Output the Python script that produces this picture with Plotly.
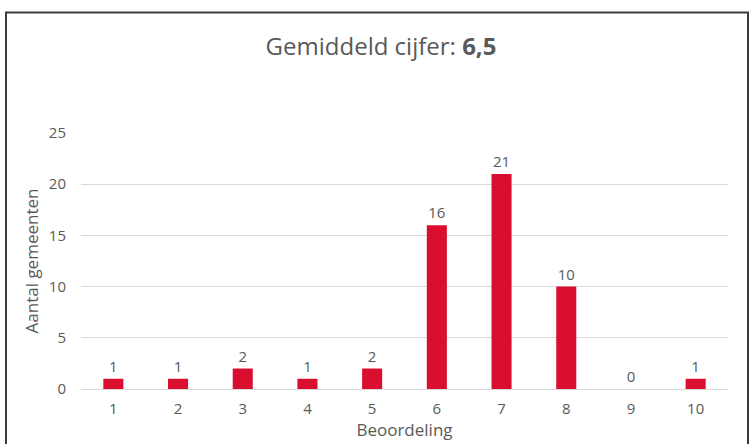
import plotly.graph_objects as go

categories = ["1", "2", "3", "4", "5", "6", "7", "8", "9", "10"]
counts = [1, 1, 2, 1, 2, 16, 21, 10, 0, 1]
y_ticks = [0, 5, 10, 15, 20, 25]

FONT = "Open Sans, Noto Sans, sans-serif"
GREY = "#595959"

fig = go.Figure(go.Bar(
    x=categories, y=counts,
    marker=dict(color="#DA0E2E", line=dict(width=0)),
    width=0.31,
    text=[str(v) for v in counts],
    textposition="outside",
    textfont=dict(family=FONT, size=15, color=GREY),
    cliponaxis=False,
))

fig.update_layout(
    width=751, height=444,
    margin=dict(l=81, r=23, t=133, b=55),
    paper_bgcolor="white", plot_bgcolor="white",
    showlegend=False,
    title=dict(
        text="Gemiddeld cijfer: <b>6,5</b>",
        x=381 / 751, xanchor="center", xref="container",
        y=1 - 47 / 444, yanchor="middle", yref="container",
        font=dict(family=FONT, size=24, color=GREY),
    ),
    xaxis=dict(
        type="category",
        tickfont=dict(family=FONT, size=15, color=GREY),
        showgrid=False, showline=True, linecolor="#d9d9d9", linewidth=1,
        ticks="", ticklen=0,
        ticklabelstandoff=6,
        title=dict(text="Beoordeling", font=dict(family=FONT, size=17, color=GREY), standoff=0),
    ),
    yaxis=dict(
        range=[0, 25], tickvals=y_ticks,
        tickfont=dict(family=FONT, size=15, color=GREY),
        showgrid=True, gridcolor="#d9d9d9", gridwidth=1,
        zeroline=False, showline=False, ticks="",
        ticklabelstandoff=14,
        title=dict(text="Aantal gemeenten", font=dict(family=FONT, size=17, color=GREY), standoff=5),
    ),
    bargap=0.69,
)

fig.add_shape(
    type="rect", xref="paper", yref="paper",
    x0=(6 - 81) / 647, x1=(748 - 81) / 647,
    y0=-0.5, y1=(389 - 12.5) / 256,
    line=dict(color="#3a3a3a", width=2),
    fillcolor="rgba(0,0,0,0)", layer="above",
)

fig.write_html("out.html", config={"displayModeBar": False},
               post_script="document.body.style.margin='0';")
